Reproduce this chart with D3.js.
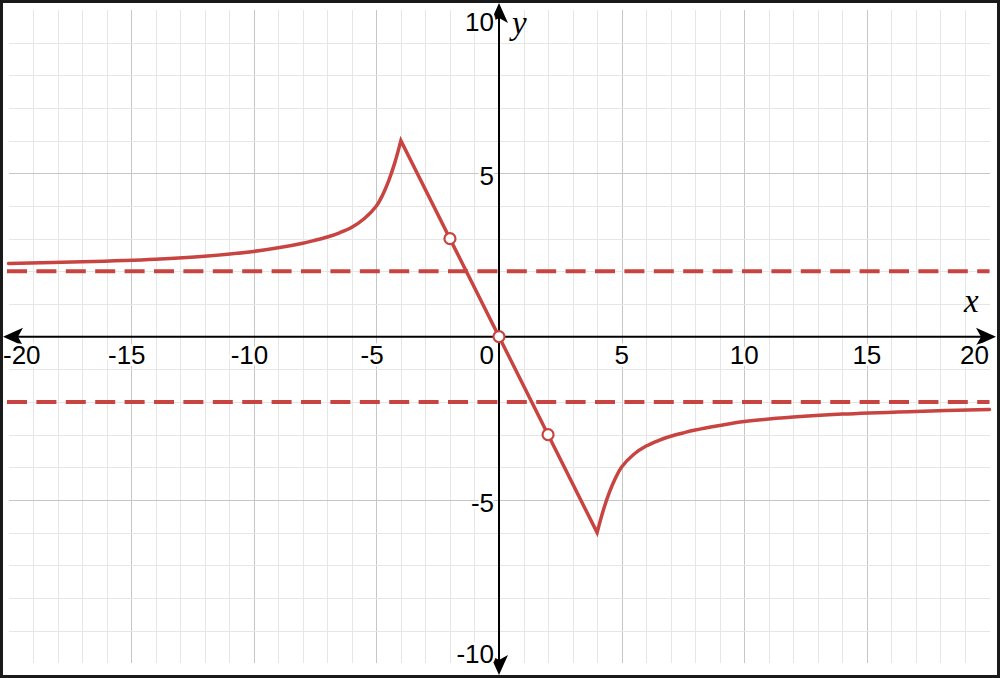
<!DOCTYPE html>
<html>
<head>
<meta charset="utf-8">
<script src="https://cdn.jsdelivr.net/npm/d3@7"></script>
<style>
  html, body { margin: 0; padding: 0; background: #fff; }
  svg { display: block; }
</style>
</head>
<body>
<svg id="chart" width="1000" height="678"></svg>
<script>
// ---- data ----
const xTickValues = [-20, -15, -10, -5, 0, 5, 10, 15, 20];
const yTickValues = [-10, -5, 5, 10];
const leftBranchX = [-20, -17, -14, -12, -10, -9, -8, -7.5, -7, -6.5, -6, -5.5, -5, -4.75, -4.5, -4.25, -4];
const leftBranchY = [2.24, 2.29, 2.37, 2.46, 2.61, 2.72, 2.86, 2.95, 3.05, 3.18, 3.35, 3.61, 4.0, 4.33, 4.77, 5.32, 6];
const middleX = [-4, 4];
const middleY = [6, -6];
const rightBranchX = [4, 4.25, 4.5, 4.75, 5, 5.5, 6, 6.5, 7, 7.5, 8, 9, 10, 12, 14, 17, 20];
const rightBranchY = [-6, -5.32, -4.77, -4.33, -3.99, -3.6, -3.35, -3.18, -3.05, -2.95, -2.86, -2.72, -2.6, -2.46, -2.37, -2.29, -2.23];
const holeX = [-2, 0, 2];
const holeY = [3, 0, -3];
const asymptoteY = [2, -2];

const W = 1000, H = 678;
const RED = "#c74440";
const svg = d3.select("#chart");

const x = d3.scaleLinear().domain([-20, 20]).range([8.5, 989.5]);
const y = d3.scaleLinear().domain([-10, 10]).range([663.3, 10]);

// ---- grid ----
const gx = d3.range(-19, 20).filter(v => v !== 0);
const gy = d3.range(-9, 10).filter(v => v !== 0);
const grid = svg.append("g").attr("shape-rendering", "crispEdges");
grid.selectAll("line.v").data(gx).join("line")
  .attr("x1", d => Math.round(x(d)) + 0.5).attr("x2", d => Math.round(x(d)) + 0.5)
  .attr("y1", y(10)).attr("y2", y(-10))
  .attr("stroke", d => d % 5 === 0 ? "#c6c6c6" : "#e6e6e6").attr("stroke-width", 1);
grid.selectAll("line.h").data(gy).join("line")
  .attr("y1", d => Math.round(y(d)) + 0.5).attr("y2", d => Math.round(y(d)) + 0.5)
  .attr("x1", x(-20)).attr("x2", x(20))
  .attr("stroke", d => d % 5 === 0 ? "#c6c6c6" : "#e6e6e6").attr("stroke-width", 1);

// ---- axes ----
const x0 = x(0), y0 = y(0);
const axes = svg.append("g");
axes.append("line").attr("x1", 6).attr("x2", 993).attr("y1", y0).attr("y2", y0)
  .attr("stroke", "#000").attr("stroke-width", 2);
axes.append("line").attr("y1", 6).attr("y2", 672).attr("x1", x0).attr("x2", x0)
  .attr("stroke", "#000").attr("stroke-width", 2);
const arrowPath = "M0,0 L-20,-9 L-15,0 L-20,9 Z";
const arrows = [
  { tx: 3, ty: y0, rot: 180 },
  { tx: 996, ty: y0, rot: 0 },
  { tx: x0, ty: 3, rot: -90 },
  { tx: x0, ty: 675, rot: 90 }
];
axes.selectAll("path.arrow").data(arrows).join("path")
  .attr("d", arrowPath)
  .attr("transform", d => `translate(${d.tx},${d.ty}) rotate(${d.rot})`)
  .attr("fill", "#000");

// ---- tick labels ----
const FS = 26;
const labelFont = "'Liberation Sans', Arial, Helvetica, sans-serif";
const labels = svg.append("g").attr("font-family", labelFont).attr("font-size", FS).attr("fill", "#000");

xTickValues.forEach(v => {
  const t = labels.append("text").text(v < 0 ? "-" + Math.abs(v) : String(v))
    .attr("y", y0 + 27.5)
    .attr("stroke", "#fff").attr("stroke-width", 5).attr("paint-order", "stroke")
    .attr("stroke-linejoin", "round");
  const wTot = t.node().getComputedTextLength();
  if (v === 0) {
    t.attr("x", x0 - 5 - wTot);
    return;
  }
  const tmp = labels.append("text").text(String(Math.abs(v)));
  const wDig = tmp.node().getComputedTextLength();
  tmp.remove();
  let start = x(v) - wDig / 2 - (wTot - wDig);
  if (start < 3) start = 3;
  if (start + wTot > 989) start = 989 - wTot;
  t.attr("x", start);
});

yTickValues.forEach(v => {
  let base = y(v) + 12;
  if (base < 31) base = 31;
  if (base > 663) base = 663;
  labels.append("text").text(v < 0 ? "-" + Math.abs(v) : String(v))
    .attr("x", x0 - 5).attr("y", base).attr("text-anchor", "end")
    .attr("stroke", "#fff").attr("stroke-width", 5).attr("paint-order", "stroke")
    .attr("stroke-linejoin", "round");
});

// axis names
const axisFont = "'Liberation Serif', 'Times New Roman', serif";
svg.append("text").text("x").attr("x", 964).attr("y", 312)
  .attr("font-family", axisFont).attr("font-style", "italic").attr("font-size", 33).attr("fill", "#000");
svg.append("text").text("y").attr("x", 512).attr("y", 34)
  .attr("font-family", axisFont).attr("font-style", "italic").attr("font-size", 33).attr("fill", "#000");

// ---- asymptotes ----
svg.append("g").selectAll("line").data(asymptoteY).join("line")
  .attr("x1", 7).attr("x2", x(20))
  .attr("y1", d => y(d)).attr("y2", d => y(d))
  .attr("stroke", RED).attr("stroke-width", 4)
  .attr("stroke-dasharray", "20 9.4");

// ---- curve ----
const smooth = d3.line().x(d => x(d[0])).y(d => y(d[1])).curve(d3.curveCatmullRom.alpha(0.5));
const straight = d3.line().x(d => x(d[0])).y(d => y(d[1]));
const leftPts = leftBranchX.map((v, i) => [v, leftBranchY[i]]);
const midPts = middleX.map((v, i) => [v, middleY[i]]);
const rightPts = rightBranchX.map((v, i) => [v, rightBranchY[i]]);
const dPath = smooth(leftPts) + straight(midPts).replace(/^M/, "L") + smooth(rightPts).replace(/^M/, "L");
svg.append("path").attr("d", dPath)
  .attr("fill", "none").attr("stroke", RED).attr("stroke-width", 3.5)
  .attr("stroke-linejoin", "miter").attr("stroke-miterlimit", 10).attr("stroke-linecap", "round");

// ---- holes ----
svg.append("g").selectAll("circle").data(holeX).join("circle")
  .attr("cx", d => x(d)).attr("cy", (d, i) => y(holeY[i])).attr("r", 5.5)
  .attr("fill", "#fff").attr("stroke", RED).attr("stroke-width", 2.2);

// ---- border ----
svg.append("rect").attr("x", 1.5).attr("y", 1.5).attr("width", W - 3).attr("height", H - 3)
  .attr("fill", "none").attr("stroke", "#1a1a1a").attr("stroke-width", 3);
</script>
</body>
</html>
